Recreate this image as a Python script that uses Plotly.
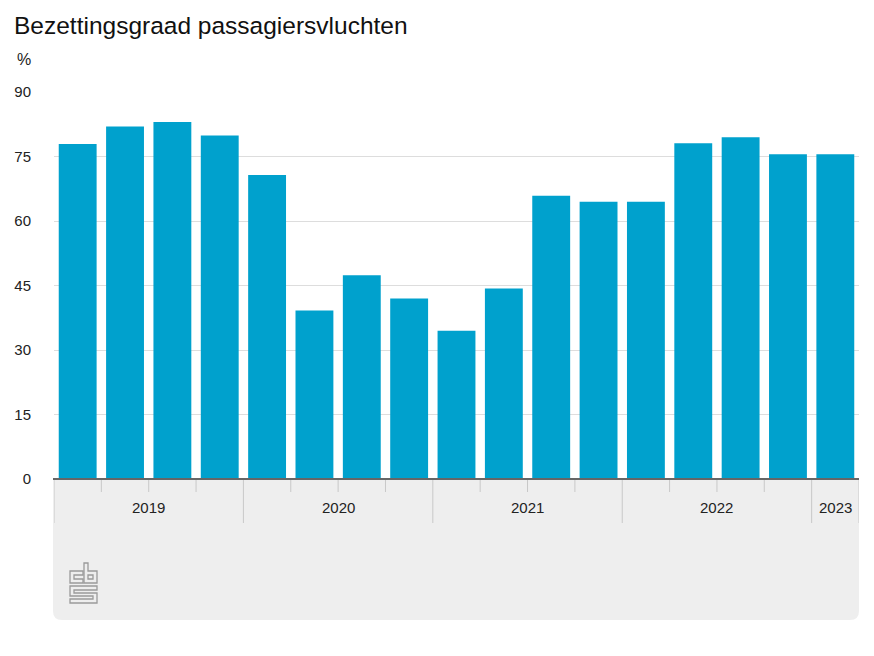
import plotly.graph_objects as go

# ---- data ----
years = ["2019", "2019", "2019", "2019",
         "2020", "2020", "2020", "2020",
         "2021", "2021", "2021", "2021",
         "2022", "2022", "2022", "2022",
         "2023"]
quarters = ["Q1", "Q2", "Q3", "Q4",
            "Q1", "Q2", "Q3", "Q4",
            "Q1", "Q2", "Q3", "Q4",
            "Q1", "Q2", "Q3", "Q4",
            "Q1"]
values = [77.9, 82.0, 83.0, 79.9,
          70.7, 39.2, 47.4, 42.0,
          34.5, 44.3, 65.9, 64.5,
          64.5, 78.1, 79.5, 75.5,
          75.5]
y_ticks = [0, 15, 30, 45, 60, 75, 90]

# page body has an 8px margin; work in screen pixels and shift
OFF = 8
W, H = 874 - 2 * OFF, 656 - 2 * OFF
PL, PR, PT, PB = 54, 859, 92, 479          # plot area in screen pixels
L, R, T, B = PL - OFF, W - (PR - OFF), PT - OFF, H - (PB - OFF)
PW, PH = PR - PL, PB - PT
FONT = "Liberation Sans, Arial, Helvetica, sans-serif"
BLUE = "#00a1cd"

def px(x):
    return (x - PL) / PW

def py(y):
    return (PB - y) / PH

n = len(values)
xs = list(range(n))

fig = go.Figure(go.Bar(
    x=xs, y=values, marker=dict(color=BLUE, line=dict(width=0)),
    hoverinfo="y",
))

shapes = []
# grey band under the axis with rounded bottom corners
r = 9
x0, x1, y0, y1 = PL - 1, PR, PB, 620
path = (f"M {px(x0)},{py(y0)} L {px(x1)},{py(y0)} L {px(x1)},{py(y1 - r)} "
        f"Q {px(x1)},{py(y1)} {px(x1 - r)},{py(y1)} L {px(x0 + r)},{py(y1)} "
        f"Q {px(x0)},{py(y1)} {px(x0)},{py(y1 - r)} Z")
shapes.append(dict(type="path", xref="paper", yref="paper", path=path,
                   fillcolor="#eeeeee", line=dict(width=0), layer="below"))

# tick marks: year dividers (long) and quarter ticks (short)
groups = []
for i, yv in enumerate(years):
    if not groups or groups[-1][0] != yv:
        groups.append([yv, i, i])
    else:
        groups[-1][2] = i
for yv, s, e in groups:
    shapes.append(dict(type="line", xref="x", yref="paper",
                       x0=s - 0.5, x1=s - 0.5, y0=0, y1=py(523),
                       line=dict(color="#c8c8c8", width=1)))
    for k in range(s + 1, e + 1):
        shapes.append(dict(type="line", xref="x", yref="paper",
                           x0=k - 0.5, x1=k - 0.5, y0=0, y1=py(492),
                           line=dict(color="#c8c8c8", width=1)))
shapes.append(dict(type="line", xref="x", yref="paper",
                   x0=n - 0.5, x1=n - 0.5, y0=0, y1=py(523),
                   line=dict(color="#c8c8c8", width=1)))
# axis line
shapes.append(dict(type="line", xref="paper", yref="paper",
                   x0=px(PL - 1), x1=1, y0=0, y1=0,
                   line=dict(color="#666666", width=2)))

# cbs logo (outline glyphs)
logo_paths = [
    [(83, 571), (70, 571), (70, 583), (83, 583), (83, 579), (74, 579), (74, 575), (83, 575)],
    [(84, 563), (88, 563), (88, 571), (97, 571), (97, 583), (84, 583)],
    [(88, 575), (93, 575), (93, 579), (88, 579)],
    [(97, 586), (70, 586), (70, 596), (93, 596), (93, 599), (70, 599), (70, 603),
     (97, 603), (97, 593), (74, 593), (74, 590), (97, 590)],
]
for pts in logo_paths:
    d = "M " + " L ".join(f"{px(a)},{py(b)}" for a, b in pts) + " Z"
    shapes.append(dict(type="path", xref="paper", yref="paper", path=d,
                       line=dict(color="#9a9a9a", width=1.3),
                       fillcolor="rgba(0,0,0,0)"))

annotations = []
for yv, s, e in groups:
    annotations.append(dict(x=(s + e) / 2, y=py(507), xref="x", yref="paper",
                            text=yv, showarrow=False,
                            font=dict(family=FONT, size=15, color="#222222"),
                            xanchor="center", yanchor="middle"))
annotations.append(dict(x=px(15), y=py(59), xref="paper", yref="paper",
                        text="%", showarrow=False, xanchor="left", yanchor="middle",
                        font=dict(family=FONT, size=16, color="#222222")))
annotations.append(dict(x=px(12), y=py(25), xref="paper", yref="paper",
                        text="Bezettingsgraad passagiersvluchten", showarrow=False,
                        xanchor="left", yanchor="middle",
                        font=dict(family=FONT, size=24.5, color="#111111")))

fig.update_layout(
    width=W, height=H, autosize=False,
    margin=dict(l=L, r=R, t=T, b=B, pad=0),
    paper_bgcolor="white", plot_bgcolor="white",
    bargap=0.2, showlegend=False,
    shapes=shapes, annotations=annotations,
    xaxis=dict(range=[-0.5, n - 0.5], showticklabels=False, showgrid=False,
               zeroline=False, ticks="", fixedrange=True),
    yaxis=dict(range=[0, 90], tickvals=y_ticks, showgrid=True,
               gridcolor="#dddddd", gridwidth=1, zeroline=False,
               ticks="", ticklabelstandoff=22,
               tickfont=dict(family=FONT, size=15, color="#222222"),
               fixedrange=True),
)

fig.write_html("out.html")
